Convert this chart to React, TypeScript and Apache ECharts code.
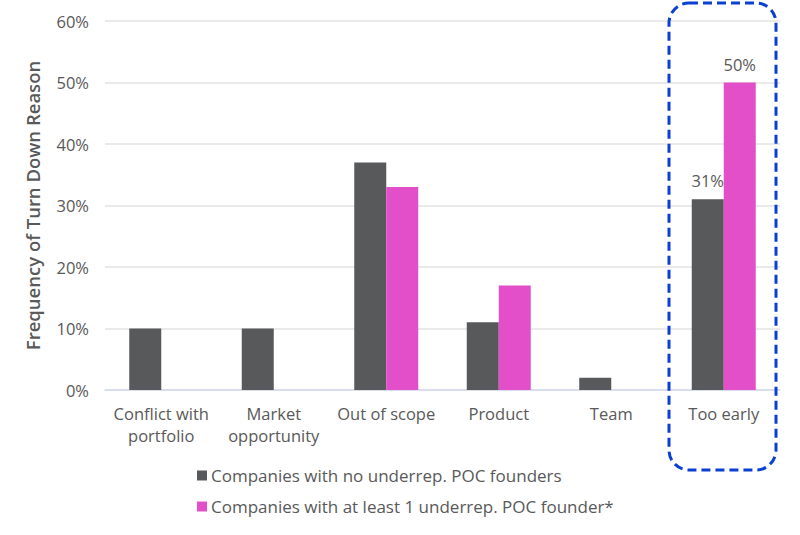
import React, { useEffect, useRef } from "react";
import * as echarts from "echarts";

const categories = ["Conflict with\nportfolio", "Market\nopportunity", "Out of scope", "Product", "Team", "Too early"];
const noUnderrep = [10, 10, 37, 11, 2, 31];
const atLeastOne = [0, 0, 33, 17, 0, 50];
const labeledIndex = 5;
const seriesNames = ["Companies with no underrep. POC founders", "Companies with at least 1 underrep. POC founder*"];
const colors = ["#58595b", "#e24fc8"];

const FONT = "'Open Sans', sans-serif";

export default function App() {
  const ref = useRef<HTMLDivElement>(null);
  useEffect(() => {
    if (!ref.current) return;
    const chart = echarts.init(ref.current, null, { renderer: "svg" });
    const mk = (arr: number[]) =>
      arr.map((v, i) =>
        i === labeledIndex
          ? { value: v, label: { show: true, position: "top", formatter: "{c}%", color: "#595959", fontSize: 16.5, fontFamily: FONT, distance: 10 } }
          : v
      );
    chart.setOption({
      animation: false,
      textStyle: { fontFamily: FONT },
      grid: { left: 105, right: 20, top: 21, bottom: 145 },
      legend: {
        orient: "vertical",
        left: 192,
        top: 462,
        itemGap: 14,
        itemWidth: 10,
        itemHeight: 10,
        icon: "rect",
        textStyle: { color: "#595959", fontSize: 17, fontFamily: FONT, padding: [0, 0, 0, -1] },
        data: seriesNames,
      },
      xAxis: {
        type: "category",
        data: categories,
        axisLine: { lineStyle: { color: "#d3daf0", width: 1.5 } },
        axisTick: { show: false },
        axisLabel: { color: "#595959", fontSize: 16.5, fontFamily: FONT, margin: 12, lineHeight: 22, interval: 0 },
      },
      yAxis: {
        type: "value",
        min: 0,
        max: 60,
        interval: 10,
        name: "Frequency of Turn Down Reason",
        nameLocation: "middle",
        nameGap: 63,
        nameTextStyle: { color: "#595959", fontSize: 18.5, fontFamily: FONT, fontWeight: 600 },
        axisLabel: { formatter: "{value}%", color: "#595959", fontSize: 16.5, fontFamily: FONT, margin: 16 },
        splitLine: { lineStyle: { color: "#e3e3e3", width: 1.5 } },
        axisLine: { show: false },
        axisTick: { show: false },
      },
      series: [
        { name: seriesNames[0], type: "bar", data: mk(noUnderrep), itemStyle: { color: colors[0] }, barWidth: 32, barGap: "0%" },
        { name: seriesNames[1], type: "bar", data: mk(atLeastOne), itemStyle: { color: colors[1] }, barWidth: 32, barGap: "0%" },
      ],
      graphic: [
        {
          type: "rect",
          shape: { x: 669, y: 3, width: 107, height: 467, r: 20 },
          style: { fill: "none", stroke: "#0a3fd1", lineWidth: 3, lineDash: [9, 5] },
          z: 100,
        },
      ],
    });
    return () => chart.dispose();
  }, []);
  return <div ref={ref} style={{ position: "absolute", left: 0, top: 0, width: 800, height: 535 }} />;
}
